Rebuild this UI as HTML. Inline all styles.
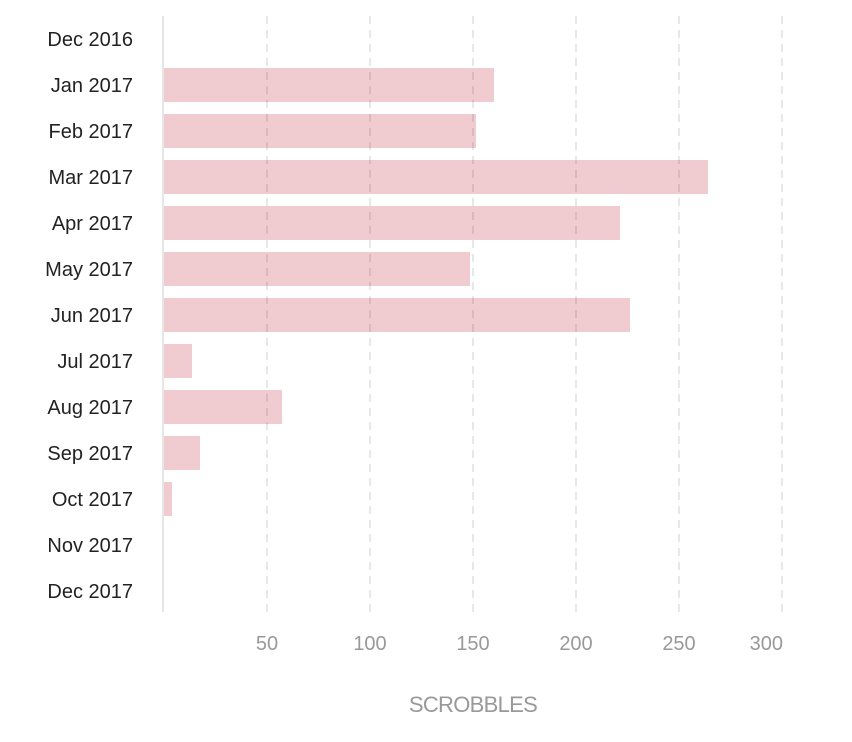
<!DOCTYPE html>
<html>
<head>
<meta charset="utf-8">
<style>
html,body{margin:0;padding:0;background:#fff;}
svg{display:block;}
</style>
</head>
<body>
<svg width="852" height="742" viewBox="0 0 852 742" xmlns="http://www.w3.org/2000/svg" font-family="'Liberation Sans', sans-serif">
  <!-- bars -->
  <g fill="#f0ccd0">
    <rect x="164" y="68" width="330" height="34"/>
    <rect x="164" y="114" width="312" height="34"/>
    <rect x="164" y="160" width="544" height="34"/>
    <rect x="164" y="206" width="456" height="34"/>
    <rect x="164" y="252" width="306" height="34"/>
    <rect x="164" y="298" width="466" height="34"/>
    <rect x="164" y="344" width="28" height="34"/>
    <rect x="164" y="390" width="118" height="34"/>
    <rect x="164" y="436" width="36" height="34"/>
    <rect x="164" y="482" width="8" height="34"/>
  </g>
  <!-- gridlines -->
  <g stroke="rgba(0,0,0,0.09)" stroke-width="2" stroke-dasharray="8 6">
    <line x1="267" y1="16" x2="267" y2="612"/>
    <line x1="370" y1="16" x2="370" y2="612"/>
    <line x1="473" y1="16" x2="473" y2="612"/>
    <line x1="576" y1="16" x2="576" y2="612"/>
    <line x1="679" y1="16" x2="679" y2="612"/>
    <line x1="782" y1="16" x2="782" y2="612"/>
  </g>
  <!-- axis line -->
  <line x1="163" y1="16" x2="163" y2="612" stroke="#e6e6e6" stroke-width="2"/>
  <!-- y labels -->
  <g font-size="20" fill="#222" text-anchor="end">
    <text x="133" y="46">Dec 2016</text>
    <text x="133" y="92">Jan 2017</text>
    <text x="133" y="138">Feb 2017</text>
    <text x="133" y="184">Mar 2017</text>
    <text x="133" y="230">Apr 2017</text>
    <text x="133" y="276">May 2017</text>
    <text x="133" y="322">Jun 2017</text>
    <text x="133" y="368">Jul 2017</text>
    <text x="133" y="414">Aug 2017</text>
    <text x="133" y="460">Sep 2017</text>
    <text x="133" y="506">Oct 2017</text>
    <text x="133" y="552">Nov 2017</text>
    <text x="133" y="598">Dec 2017</text>
  </g>
  <!-- x tick labels -->
  <g font-size="20" fill="#999" text-anchor="middle">
    <text x="267" y="650">50</text>
    <text x="370" y="650">100</text>
    <text x="473" y="650">150</text>
    <text x="576" y="650">200</text>
    <text x="679" y="650">250</text>
    <text x="783" y="650" text-anchor="end">300</text>
  </g>
  <text x="473" y="712" font-size="22" letter-spacing="-0.7" fill="#999" text-anchor="middle">SCROBBLES</text>
</svg>
</body>
</html>
